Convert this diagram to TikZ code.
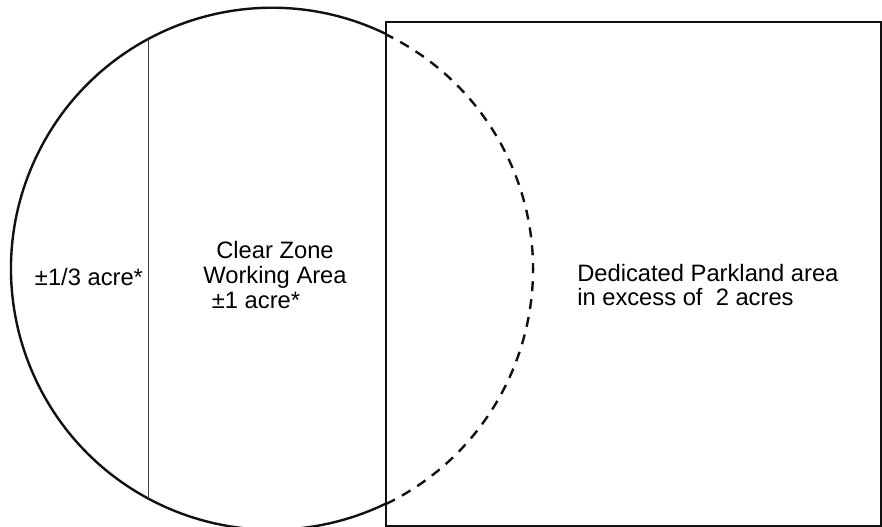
\documentclass[tikz,border=0pt]{standalone}
\usepackage{fontspec}
\setmainfont{Liberation Sans}
\usetikzlibrary{positioning}
\definecolor{InkBlack}{HTML}{111111}
\definecolor{DividerGray}{HTML}{444444}

\begin{document}
\begin{tikzpicture}[x=0.75pt, y=0.75pt, font=\fontsize{17.8}{18.6}\selectfont]
          \useasboundingbox (0,0) rectangle (882,527);

          % Cut points of the circle
          \coordinate (centre) at (272,258);
          \coordinate (topcut) at (386,493);
          \coordinate (botcut) at (386,23);
          \coordinate (divtop) at (148,488);
          \coordinate (divbot) at (148,28);

          % Parkland
          \draw[line width=1.8pt, color=InkBlack] (386,1) rectangle (881,505);

          % Circle
          \draw[line width=1.8pt, color=InkBlack] (topcut) arc[start angle=64.1, end angle=295.9, radius=195.75pt];
          \draw[line width=1.8pt, color=InkBlack, dash pattern=on 7.5pt off 6pt] (botcut) arc[start angle=-64.1, end angle=64.1, radius=195.75pt];

          % Divider
          \draw[line width=0.7pt, color=DividerGray] (divtop) -- (divbot);

          % Labels
          \node[anchor=base, inner sep=0pt] (small) at (89,241) {±1/3 acre*};
          \node[align=center, inner sep=0pt] (clear) at (275,252) {Clear Zone\\Working Area\\±1 acre*\hspace*{1.6em}};
          \node[align=left, anchor=west, inner sep=0pt] (park) at (577,242) {Dedicated Parkland area\\in excess of\ \ 2 acres};
        \end{tikzpicture}
\end{document}
